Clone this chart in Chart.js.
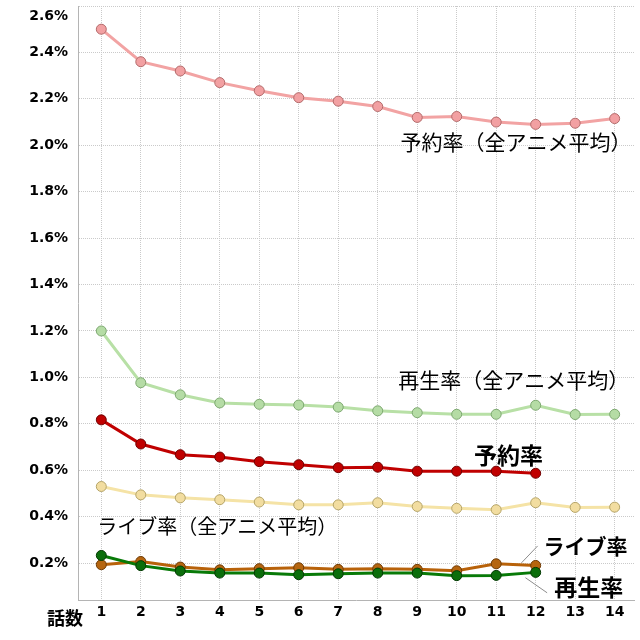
<!DOCTYPE html>
<html>
<head>
<meta charset="utf-8">
<script src="https://cdn.jsdelivr.net/npm/chart.js@4"></script>
<style>
  html, body { margin: 0; padding: 0; background: #fff; }
  #wrap { width: 640px; height: 640px; }
</style>
</head>
<body>
<div id="wrap"><canvas id="chart" width="640" height="640"></canvas></div>
<script>
// 話数
var episodes = [1, 2, 3, 4, 5, 6, 7, 8, 9, 10, 11, 12, 13, 14];
var yTicks = [0.2, 0.4, 0.6, 0.8, 1.0, 1.2, 1.4, 1.6, 1.8, 2.0, 2.2, 2.4, 2.6];

// 全アニメ平均 (%)
var reserveAvg = [2.50, 2.36, 2.32, 2.27, 2.235, 2.205, 2.19, 2.167, 2.12, 2.124, 2.10, 2.09, 2.095, 2.115];
var playAvg    = [1.20, 0.977, 0.925, 0.89, 0.884, 0.881, 0.872, 0.856, 0.848, 0.841, 0.841, 0.88, 0.84, 0.841];
var liveAvg    = [0.53, 0.494, 0.481, 0.473, 0.463, 0.451, 0.451, 0.46, 0.444, 0.436, 0.43, 0.46, 0.44, 0.441];

// この作品 (%)
var reserve = [0.817, 0.713, 0.667, 0.657, 0.637, 0.624, 0.611, 0.613, 0.596, 0.596, 0.596, 0.587];
var live    = [0.193, 0.207, 0.183, 0.171, 0.176, 0.18, 0.173, 0.176, 0.173, 0.167, 0.197, 0.19];
var play    = [0.233, 0.189, 0.166, 0.157, 0.157, 0.15, 0.154, 0.157, 0.157, 0.146, 0.147, 0.16];

// 注記 (x: 話数, y: %)
var notes = [
  { text: '予約率（全アニメ平均）', x: 8.58, y: 2.012, font: '21px "Noto Sans CJK JP"' },
  { text: '再生率（全アニメ平均）', x: 8.52, y: 0.99, font: '21px "Noto Sans CJK JP"' },
  { text: 'ライブ率（全アニメ平均）', x: 0.9, y: 0.36, font: '20px "Noto Sans CJK JP"' },
  { text: '予約率', x: 10.44, y: 0.666, font: 'bold 23px "Noto Sans CJK JP"' },
  { text: 'ライブ率', x: 12.2, y: 0.274, font: 'bold 21px "Noto Sans CJK JP"' },
  { text: '再生率', x: 12.47, y: 0.094, font: 'bold 23px "Noto Sans CJK JP"' }
];
var leaders = [
  [11.64, 0.201, 12.05, 0.274],
  [11.74, 0.137, 12.29, 0.072]
];

function pts(arr) {
  return arr.map(function (v, i) { return { x: episodes[i], y: v }; });
}

function series(label, data, line, fill, border) {
  return {
    label: label,
    data: pts(data),
    borderColor: line,
    borderWidth: 3,
    pointRadius: 5,
    pointBackgroundColor: fill,
    pointBorderColor: border,
    pointBorderWidth: 1,
    tension: 0
  };
}

var notesPlugin = {
  id: 'notes',
  afterDatasetsDraw: function (chart) {
    var ctx = chart.ctx, xs = chart.scales.x, ys = chart.scales.y;
    ctx.save();
    ctx.strokeStyle = '#8c8c8c';
    ctx.lineWidth = 1;
    leaders.forEach(function (l) {
      ctx.beginPath();
      ctx.moveTo(xs.getPixelForValue(l[0]), ys.getPixelForValue(l[1]));
      ctx.lineTo(xs.getPixelForValue(l[2]), ys.getPixelForValue(l[3]));
      ctx.stroke();
    });
    ctx.fillStyle = '#000';
    ctx.textBaseline = 'middle';
    ctx.textAlign = 'left';
    notes.forEach(function (n) {
      ctx.font = n.font;
      ctx.fillText(n.text, xs.getPixelForValue(n.x), ys.getPixelForValue(n.y));
    });
    // top tick label and axis title
    ctx.font = 'bold 14px "DejaVu Sans"';
    ctx.textAlign = 'right';
    ctx.fillText('2.6%', xs.left - 10, ys.getPixelForValue(2.6) + 10);
    ctx.font = 'bold 18px "Noto Sans CJK JP"';
    ctx.textAlign = 'left';
    ctx.fillText('話数', 47, ys.bottom + 18);
    ctx.restore();
  }
};

new Chart(document.getElementById('chart'), {
  type: 'line',
  data: {
    datasets: [
      series('再生率', play, '#087a08', '#0b6e0b', '#033a03'),
      series('ライブ率', live, '#b8620a', '#b5650f', '#6e3a05'),
      series('予約率', reserve, '#c00000', '#c00000', '#700000'),
      series('予約率（全アニメ平均）', reserveAvg, '#f2a3a3', '#f2a0a2', '#b36a6a'),
      series('再生率（全アニメ平均）', playAvg, '#b8e0a6', '#b5dca5', '#7da870'),
      series('ライブ率（全アニメ平均）', liveAvg, '#f5e3a6', '#f2dda0', '#b5a468')
    ]
  },
  options: {
    responsive: false,
    animation: false,
    layout: { padding: { top: 6, right: 4, left: 0, bottom: 0 } },
    plugins: { legend: { display: false }, tooltip: { enabled: false } },
    scales: {
      x: {
        type: 'linear',
        min: 0.41,
        max: 14.49,
        afterBuildTicks: function (s) {
          s.ticks = episodes.map(function (v) { return { value: v }; });
        },
        afterFit: function (s) {
          s.height = 40;
          s.paddingLeft = 0;
          s.paddingRight = 0;
        },
        ticks: {
          color: '#000',
          font: { family: 'DejaVu Sans', weight: 'bold', size: 14 },
          padding: 4,
          maxRotation: 0,
          autoSkip: false
        },
        grid: { color: '#cacaca', drawTicks: false, tickLength: 0 },
        border: { display: true, color: '#b4b4b4', dash: [1, 1] }
      },
      y: {
        min: 0.041,
        max: 2.6,
        afterBuildTicks: function (s) {
          s.ticks = yTicks.map(function (v) { return { value: v }; });
        },
        afterFit: function (s) {
          s.width = 78;
          s.paddingTop = 0;
          s.paddingBottom = 0;
        },
        ticks: {
          color: '#000',
          font: { family: 'DejaVu Sans', weight: 'bold', size: 14 },
          padding: 10,
          callback: function (v) { return v >= 2.59 ? '' : v.toFixed(1) + '%'; }
        },
        grid: { color: '#cacaca', drawTicks: false, tickLength: 0 },
        border: { display: true, color: '#b4b4b4', dash: [1, 1] }
      }
    }
  },
  plugins: [notesPlugin]
});
</script>
</body>
</html>
